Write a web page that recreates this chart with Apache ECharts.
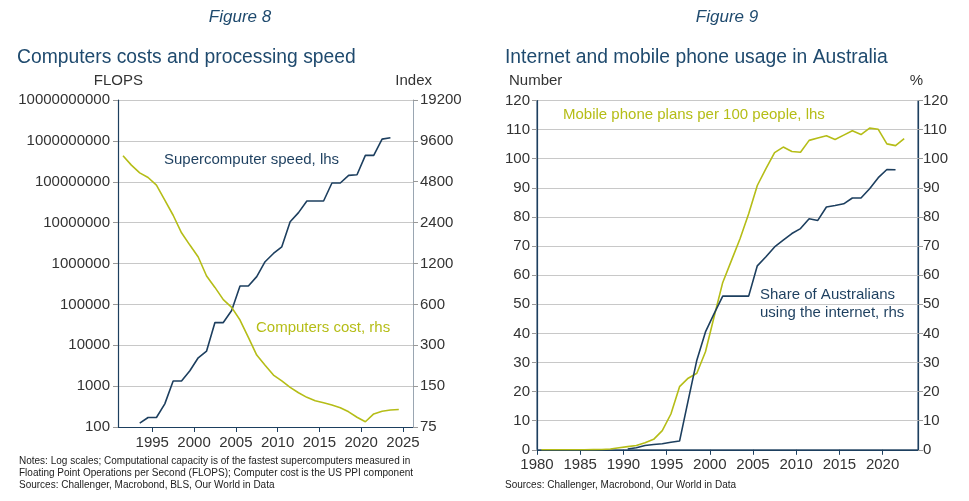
<!DOCTYPE html>
<html><head><meta charset="utf-8">
<script src="https://cdn.jsdelivr.net/npm/echarts@6/dist/echarts.min.js"></script>
<style>html,body{margin:0;padding:0;background:#fff}#c{width:969px;height:501px}</style>
</head><body><div id="c"></div>
<script>
// ---------- Figure 8 (annual observations, plotted at mid-year) ----------
const speedYears = [1993,1994,1995,1996,1997,1998,1999,2000,2001,2002,2003,2004,2005,2006,2007,2008,2009,2010,2011,2012,2013,2014,2015,2016,2017,2018,2019,2020,2021,2022,2023];
const speedFlops = [124.5,170.4,170.4,368.2,1338,1338,2379,4938,7226,35860,35860,70720,280600,280600,478200,1105000,1759000,2566000,10510000,17590000,33860000,33860000,33860000,93010000,93010000,143500000,148600000,442010000,442010000,1102000000,1194000000];
const costYears = [1991,1992,1993,1994,1995,1996,1997,1998,1999,2000,2001,2002,2003,2004,2005,2006,2007,2008,2009,2010,2011,2012,2013,2014,2015,2016,2017,2018,2019,2020,2021,2022,2023,2024];
const costIndex = [7450,6360,5580,5160,4530,3520,2720,2020,1640,1340,970,800,650,570,460,343,254,214,181,164,147,134,124,117,113,109,104,97,88.5,82,93.6,97.9,100,101];
const fig8YearTicks = [1995,2000,2005,2010,2015,2020,2025];
const indexTicks = [75,150,300,600,1200,2400,4800,9600,19200];

// ---------- Figure 9 ----------
const mobileYears = [1980,1981,1982,1983,1984,1985,1986,1987,1988,1989,1990,1991,1992,1993,1994,1995,1996,1997,1998,1999,2000,2001,2002,2003,2004,2005,2006,2007,2008,2009,2010,2011,2012,2013,2014,2015,2016,2017,2018,2019,2020,2021,2022];
const mobilePlans = [0,0,0,0,0,0,0.05,0.1,0.3,0.7,1.1,1.5,2.4,3.6,6.6,12.3,21.7,24.6,26.3,33.7,45.7,57.5,65.0,72.5,81.1,90.8,96.6,102.1,104.0,102.5,102.2,106.3,107.1,107.9,106.6,108.1,109.6,108.3,110.5,110.1,105.1,104.5,106.9];
const internetYears = [1990,1991,1992,1993,1994,1995,1996,1997,1998,1999,2000,2001,2002,2003,2004,2005,2006,2007,2008,2009,2010,2011,2012,2013,2014,2015,2016,2017,2018,2019,2020,2021];
const internetShare = [0.3,0.7,1.5,1.8,2.1,2.6,3.0,17.0,30.8,40.5,46.8,52.8,52.8,52.8,52.8,63.2,66.3,69.7,72.0,74.3,76.0,79.4,78.8,83.4,83.9,84.5,86.5,86.5,89.7,93.5,96.3,96.2];
const fig9YearTicks = [1980,1985,1990,1995,2000,2005,2010,2015,2020];

const NAVY = '#1d3f5f';
const LIME = '#b5bd17';
const GRID = '#c8c8c8';
const LABEL = '#333333';
const FONT = '"Liberation Sans", Arial, sans-serif';

const midYear = (years, vals) => years.map((y, i) => [y + 0.5, vals[i]]);

function txt(text, x, y, opts) {
  opts = opts || {};
  const size = opts.size || 15;
  return {
    type: 'text', silent: true,
    style: {
      text: text, x: x, y: y,
      fill: opts.color || LABEL,
      font: (opts.italic ? 'italic ' : '') + size + 'px ' + FONT,
      textAlign: opts.align || 'left', align: opts.align || 'left',
      textVerticalAlign: 'middle', verticalAlign: 'middle'
    }
  };
}

const axisLabelStyle = { fontSize: 15, color: LABEL, fontFamily: FONT };

const option = {
  animation: false,
  backgroundColor: '#fff',
  grid: [
    { left: 118, right: 969 - 413, top: 100, height: 327, containLabel: false },
    { left: 537, right: 969 - 918, top: 100.5, height: 349.3, containLabel: false,
      show: true, borderColor: NAVY, borderWidth: 1 }
  ],
  xAxis: [
    { type: 'value', gridIndex: 0, min: 1990.9, max: 2026.2,
      axisLine: { show: true, lineStyle: { color: NAVY, width: 1.2 } },
      axisTick: { show: true, customValues: fig8YearTicks, length: 5, lineStyle: { color: NAVY } },
      axisLabel: Object.assign({ customValues: fig8YearTicks, margin: 8, formatter: v => String(Math.round(v)) }, axisLabelStyle),
      splitLine: { show: false } },
    { type: 'value', gridIndex: 1, min: 1980, max: 2024.1,
      axisLine: { show: true, lineStyle: { color: NAVY, width: 1.2 } },
      axisTick: { show: true, customValues: fig9YearTicks, length: 5, lineStyle: { color: NAVY } },
      axisLabel: Object.assign({ customValues: fig9YearTicks, margin: 8, formatter: v => String(Math.round(v)) }, axisLabelStyle),
      splitLine: { show: false } }
  ],
  yAxis: [
    { type: 'log', logBase: 10, gridIndex: 0, position: 'left', min: 100, max: 1e10,
      axisLine: { show: true, lineStyle: { color: NAVY, width: 1.2 } },
      axisTick: { show: true, length: 5, lineStyle: { color: '#999' } },
      minorTick: { show: false },
      axisLabel: Object.assign({ margin: 8, formatter: v => String(Math.round(v)) }, axisLabelStyle),
      splitLine: { show: true, lineStyle: { color: GRID, width: 1 } } },
    { type: 'log', logBase: 2, gridIndex: 0, position: 'right', min: 75, max: 19200,
      axisLine: { show: true, lineStyle: { color: '#9aa6b2', width: 1 } },
      axisTick: { show: true, customValues: indexTicks, length: 5, lineStyle: { color: '#999' } },
      minorTick: { show: false },
      axisLabel: Object.assign({ customValues: indexTicks, margin: 7, formatter: v => String(Math.round(v)) }, axisLabelStyle),
      splitLine: { show: false } },
    { type: 'value', gridIndex: 1, position: 'left', min: 0, max: 120, interval: 10,
      axisLine: { show: true, lineStyle: { color: NAVY, width: 1.2 } },
      axisTick: { show: true, length: 5, lineStyle: { color: '#999' } },
      axisLabel: Object.assign({ margin: 7 }, axisLabelStyle),
      splitLine: { show: true, lineStyle: { color: GRID, width: 1 } } },
    { type: 'value', gridIndex: 1, position: 'right', min: 0, max: 120, interval: 10,
      axisLine: { show: true, lineStyle: { color: NAVY, width: 1.2 } },
      axisTick: { show: true, length: 5, lineStyle: { color: '#999' } },
      axisLabel: Object.assign({ margin: 5 }, axisLabelStyle),
      splitLine: { show: false } }
  ],
  series: [
    { name: 'Supercomputer speed', type: 'line', xAxisIndex: 0, yAxisIndex: 0,
      data: midYear(speedYears, speedFlops), showSymbol: false,
      lineStyle: { color: NAVY, width: 1.6 }, itemStyle: { color: NAVY } },
    { name: 'Computers cost', type: 'line', xAxisIndex: 0, yAxisIndex: 1,
      data: midYear(costYears, costIndex), showSymbol: false,
      lineStyle: { color: LIME, width: 1.6 }, itemStyle: { color: LIME } },
    { name: 'Mobile phone plans', type: 'line', xAxisIndex: 1, yAxisIndex: 2,
      data: midYear(mobileYears, mobilePlans), showSymbol: false,
      lineStyle: { color: LIME, width: 1.6 }, itemStyle: { color: LIME } },
    { name: 'Internet share', type: 'line', xAxisIndex: 1, yAxisIndex: 3,
      data: midYear(internetYears, internetShare), showSymbol: false,
      lineStyle: { color: NAVY, width: 1.6 }, itemStyle: { color: NAVY } }
  ],
  graphic: [
    txt('Figure 8', 240, 17, { italic: true, size: 17, color: '#1f4a6e', align: 'center' }),
    txt('Figure 9', 727, 17, { italic: true, size: 17, color: '#1f4a6e', align: 'center' }),
    txt('Computers costs and processing speed', 17, 58, { size: 19.3, color: '#1f4a6e' }),
    txt('Internet and mobile phone usage in Australia', 505, 58, { size: 19.3, color: '#1f4a6e' }),
    txt('FLOPS', 143, 81, { align: 'right' }),
    txt('Index', 432, 81, { align: 'right' }),
    txt('Number', 509, 81),
    txt('%', 923, 81, { align: 'right' }),
    txt('Supercomputer speed, lhs', 164, 160, { color: NAVY }),
    txt('Computers cost, rhs', 256, 328, { color: LIME }),
    txt('Mobile phone plans per 100 people, lhs', 563, 115, { color: LIME }),
    txt('Share of Australians', 760, 295, { color: NAVY }),
    txt('using the internet, rhs', 760, 313, { color: NAVY }),
    txt('Notes: Log scales; Computational capacity is of the fastest supercomputers measured in', 19, 461, { size: 10, color: '#222' }),
    txt('Floating Point Operations per Second (FLOPS); Computer cost is the US PPI component', 19, 473, { size: 10, color: '#222' }),
    txt('Sources: Challenger, Macrobond, BLS, Our World in Data', 19, 485, { size: 10, color: '#222' }),
    txt('Sources: Challenger, Macrobond, Our World in Data', 505, 485, { size: 10, color: '#222' })
  ]
};

const chart = echarts.init(document.getElementById('c'), null, { renderer: 'canvas' });
chart.setOption(option);
</script>
</body></html>
